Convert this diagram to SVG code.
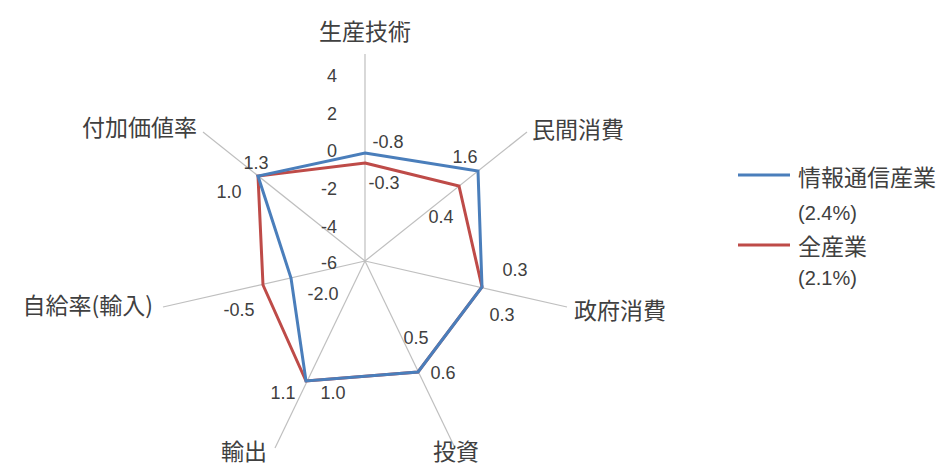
<svg xmlns="http://www.w3.org/2000/svg" width="944" height="468" viewBox="0 0 944 468">
<style>
.ax{stroke:#bfbfbf;stroke-width:1.2;fill:none}
.s{fill:none;stroke-width:3;stroke-linejoin:miter}
.b{stroke:#4a7ebb}
.r{stroke:#be4b48}
.t{fill:#404040;font-family:"Noto Sans CJK JP","Noto Sans",sans-serif;font-size:23px;dominant-baseline:central}
.n{fill:#404040;font-family:"Liberation Sans","Noto Sans",sans-serif;font-size:18px;dominant-baseline:central}
.l{fill:#404040;font-family:"Liberation Sans","Noto Sans",sans-serif;font-size:20px;dominant-baseline:central}
</style>
<rect width="944" height="468" fill="#ffffff"/>
<g id="connectors">
<line class="ax" x1="365" y1="261" x2="365" y2="54"/>
<line class="ax" x1="365" y1="261" x2="527" y2="132"/>
<line class="ax" x1="365" y1="261" x2="567" y2="307"/>
<line class="ax" x1="365" y1="261" x2="455" y2="448"/>
<line class="ax" x1="365" y1="261" x2="275" y2="448"/>
<line class="ax" x1="365" y1="261" x2="163" y2="307"/>
<line class="ax" x1="365" y1="261" x2="203" y2="132"/>
</g>
<g id="scale">
<text class="n" x="337" y="76" text-anchor="end">4</text>
<text class="n" x="337" y="114" text-anchor="end">2</text>
<text class="n" x="337" y="151" text-anchor="end">0</text>
<text class="n" x="337" y="189" text-anchor="end">-2</text>
<text class="n" x="337" y="227" text-anchor="end">-4</text>
<text class="n" x="337" y="263" text-anchor="end">-6</text>
</g>
<g id="series-all">
<polygon class="s r" points="365,163 459,186 482,287 418,372 306,381 263,285 258,176"/>
</g>
<g id="series-ict">
<polygon class="s b" points="365,153 478,171 482,287 418,372 306,381 291,278 258,176"/>
</g>
<g id="node-seisan"><text class="t" x="365" y="30" text-anchor="middle">生産技術</text></g>
<g id="node-minkan"><text class="t" x="532" y="128">民間消費</text></g>
<g id="node-seifu"><text class="t" x="574" y="309">政府消費</text></g>
<g id="node-toshi"><text class="t" x="433" y="450">投資</text></g>
<g id="node-yushutsu"><text class="t" x="221" y="450">輸出</text></g>
<g id="node-jikyu"><text class="t" x="153" y="304" text-anchor="end">自給率(輸入)</text></g>
<g id="node-fuka"><text class="t" x="197" y="126" text-anchor="end">付加価値率</text></g>
<g id="values">
<text class="n" x="388" y="142" text-anchor="middle">-0.8</text>
<text class="n" x="384" y="183" text-anchor="middle">-0.3</text>
<text class="n" x="465" y="157" text-anchor="middle">1.6</text>
<text class="n" x="441" y="217" text-anchor="middle">0.4</text>
<text class="n" x="515" y="270" text-anchor="middle">0.3</text>
<text class="n" x="502" y="315" text-anchor="middle">0.3</text>
<text class="n" x="416" y="338" text-anchor="middle">0.5</text>
<text class="n" x="443" y="373" text-anchor="middle">0.6</text>
<text class="n" x="283" y="393" text-anchor="middle">1.1</text>
<text class="n" x="333" y="393" text-anchor="middle">1.0</text>
<text class="n" x="239" y="310" text-anchor="middle">-0.5</text>
<text class="n" x="323" y="294" text-anchor="middle">-2.0</text>
<text class="n" x="256" y="163" text-anchor="middle">1.3</text>
<text class="n" x="229" y="192" text-anchor="middle">1.0</text>
</g>
<g id="legend">
<line class="b" x1="738" y1="175" x2="790" y2="175" stroke-width="3"/>
<text class="t" x="798" y="176">情報通信産業</text>
<text class="l" x="798" y="213">(2.4%)</text>
<line class="r" x1="738" y1="245" x2="790" y2="245" stroke-width="3"/>
<text class="t" x="798" y="245">全産業</text>
<text class="l" x="798" y="278">(2.1%)</text>
</g>
</svg>
